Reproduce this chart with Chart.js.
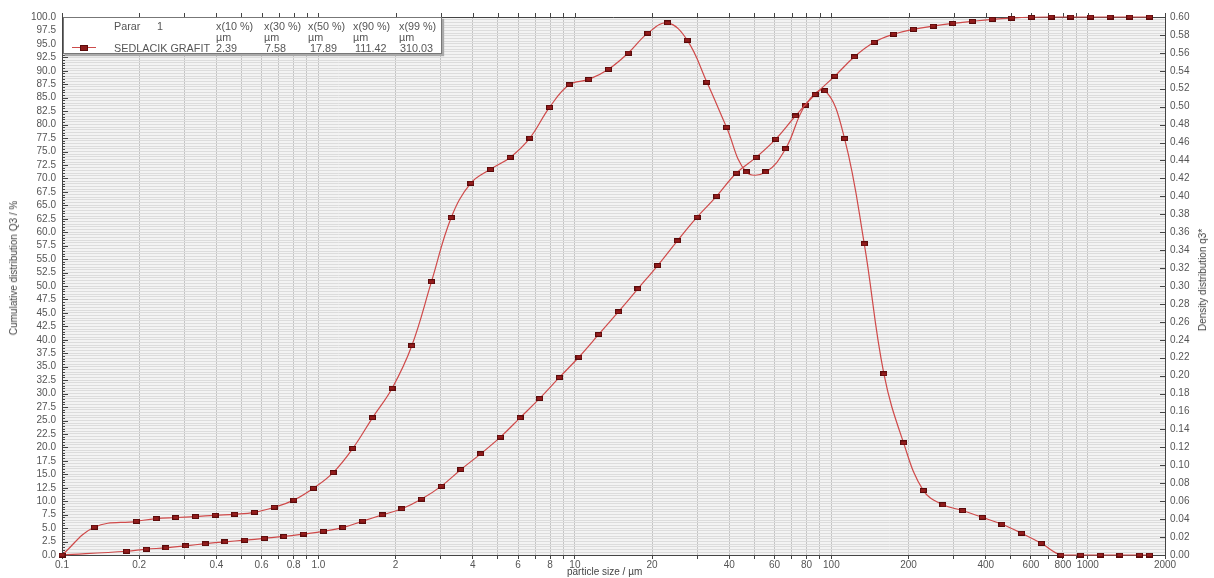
<!DOCTYPE html>
<html>
<head>
<meta charset="utf-8">
<script src="https://cdn.jsdelivr.net/npm/chart.js@4.4.0/dist/chart.umd.min.js"></script>
<style>
  html, body { margin: 0; padding: 0; background: #fff; }
  #quadro { position: relative; width: 1214px; height: 578px; overflow: hidden; }
  #grafico { position: absolute; left: 0; top: 0; }
  .titulo { position: absolute; font-family: "Liberation Sans Narrow", "Arial Narrow", "Liberation Sans", sans-serif; font-size: 10px; color: #444; white-space: nowrap; line-height: 12px; }
  .vertical { transform: translate(-50%, -50%) rotate(-90deg); }
  #legenda { position: absolute; left: 63px; top: 17px; width: 377px; height: 35px; background: #fff; border: 1px solid #777; box-shadow: 2px 2px 1px #aaa; }
  #legenda span { position: absolute; font-family: "Liberation Sans", Arial, sans-serif; font-size: 10.8px; color: #555; white-space: nowrap; line-height: 12px; }
  #legenda .linha { position: absolute; height: 1px; background: #cc4b4b; }
  #legenda .ponto { position: absolute; width: 6px; height: 4px; background: #8e1b1b; border: 1px solid #5a0b0b; }
</style>
</head>
<body>
<div id="quadro">
  <canvas id="grafico" width="1214" height="578"></canvas>
  <div class="titulo vertical" style="left:14px; top:268px;">Cumulative distribution Q3 / %</div>
  <div class="titulo vertical" style="left:1203px; top:280px;">Density distribution q3*</div>
  <div class="titulo" style="left:567px; top:566px;">particle size / µm</div>
  <div id="legenda">
    <span style="left:50px; top:2px;">Parar</span>
    <span style="left:93px; top:2px;">1</span>
    <span style="left:152px; top:2px;">x(10 %)</span>
    <span style="left:200px; top:2px;">x(30 %)</span>
    <span style="left:244px; top:2px;">x(50 %)</span>
    <span style="left:289px; top:2px;">x(90 %)</span>
    <span style="left:335px; top:2px;">x(99 %)</span>
    <span style="left:152px; top:13px;">µm</span>
    <span style="left:200px; top:13px;">µm</span>
    <span style="left:244px; top:13px;">µm</span>
    <span style="left:289px; top:13px;">µm</span>
    <span style="left:335px; top:13px;">µm</span>
    <div class="linha" style="left:8px; top:29px; width:24px;"></div>
    <div class="ponto" style="left:16px; top:27px;"></div>
    <span style="left:50px; top:24px;">SEDLACIK GRAFIT</span>
    <span style="left:152px; top:24px;">2.39</span>
    <span style="left:201px; top:24px;">7.58</span>
    <span style="left:246px; top:24px;">17.89</span>
    <span style="left:291px; top:24px;">111.42</span>
    <span style="left:336px; top:24px;">310.03</span>
  </div>
</div>
<script>
// tamanhos de particula (µm) - limites de classe para Q3
const tamanhosQ3 = [0.1, 0.1786, 0.2131, 0.2543, 0.3034, 0.3621, 0.4320, 0.5155, 0.6151, 0.7339,
  0.8757, 1.0445, 1.246, 1.487, 1.774, 2.117, 2.526, 3.014, 3.596, 4.291,
  5.120, 6.109, 7.289, 8.697, 10.37, 12.38, 14.77, 17.62, 21.02, 25.09,
  29.94, 35.72, 42.62, 50.85, 60.67, 72.39, 86.38, 103.1, 123.0, 146.7,
  175.1, 208.9, 249.2, 297.4, 354.8, 423.4, 505.1, 602.7, 719.2, 858.1,
  1024, 1221, 1457, 1739];
// distribuicao acumulada Q3 (%)
const valoresQ3 = [0, 0.7, 1.08, 1.33, 1.7, 2.1, 2.45, 2.75, 3.1, 3.45,
  3.9, 4.4, 5.1, 6.3, 7.45, 8.6, 10.4, 12.8, 15.9, 18.8,
  21.9, 25.5, 29.1, 33.0, 36.8, 41.0, 45.2, 49.5, 53.8, 58.4,
  62.8, 66.7, 71.0, 73.9, 77.3, 81.6, 85.6, 89.0, 92.6, 95.3,
  96.8, 97.7, 98.3, 98.8, 99.2, 99.55, 99.8, 99.95, 100, 100,
  100, 100, 100, 100];

// tamanhos medios de classe para a densidade q3*
const tamanhosDens = [0.1, 0.1337, 0.1951, 0.2328, 0.2778, 0.3314, 0.3955, 0.4719, 0.5630, 0.6718,
  0.8015, 0.9562, 1.141, 1.361, 1.624, 1.938, 2.312, 2.759, 3.292, 3.928,
  4.687, 5.592, 6.672, 7.961, 9.499, 11.33, 13.52, 16.13, 19.25, 22.97,
  27.41, 32.70, 39.02, 46.56, 55.55, 66.29, 79.09, 94.36, 112.6, 134.4,
  160.3, 191.3, 228.2, 272.3, 324.9, 387.7, 462.6, 551.9, 658.5, 785.7,
  937.4, 1118, 1334, 1592, 1739];
// densidade q3*
const valoresDens = [0, 0.031, 0.0376, 0.0406, 0.0418, 0.0429, 0.0443, 0.0454, 0.0476, 0.0532,
  0.0612, 0.0744, 0.0918, 0.1188, 0.153, 0.186, 0.2334, 0.3048, 0.3762, 0.4146,
  0.4302, 0.4434, 0.465, 0.4992, 0.5244, 0.5304, 0.5418, 0.5598, 0.582, 0.5934,
  0.5742, 0.5274, 0.477, 0.4272, 0.4272, 0.453, 0.5016, 0.5178, 0.4644, 0.347,
  0.202, 0.125, 0.072, 0.056, 0.0496, 0.042, 0.0343, 0.0243, 0.013, 0,
  0, 0, 0, 0, 0];

// eixo x: linhas de grade e rotulos
const gradeX = [0.1, 0.2, 0.3, 0.4, 0.5, 0.6, 0.7, 0.8, 0.9,
  1, 2, 3, 4, 5, 6, 7, 8, 9,
  10, 20, 30, 40, 50, 60, 70, 80, 90,
  100, 200, 300, 400, 500, 600, 700, 800, 900,
  1000, 2000];
const valoresRotuloX = [0.1, 0.2, 0.4, 0.6, 0.8, 1, 2, 4, 6, 8, 10, 20, 40, 60, 80, 100, 200, 400, 600, 800, 1000, 2000];
const rotulosX = ["0.1", "0.2", "0.4", "0.6", "0.8", "1.0", "2", "4", "6", "8", "10", "20", "40", "60", "80", "100", "200", "400", "600", "800", "1000", "2000"];

const corLinha = "#cf4a4a";
const fonteEixo = { family: "'Liberation Sans Narrow', 'Arial Narrow', 'Liberation Sans', sans-serif", size: 10 };

// marcador quadrado vermelho escuro
function marcador() {
  const c = document.createElement("canvas");
  c.width = 7; c.height = 5;
  const g = c.getContext("2d");
  g.fillStyle = "#5a0b0b"; g.fillRect(0, 0, 7, 5);
  g.fillStyle = "#931c1c"; g.fillRect(1, 1, 5, 3);
  return c;
}

// fundo do grafico, moldura superior e tracinhos dos eixos
const decoracao = {
  id: "decoracao",
  beforeDraw(chart) {
    const { ctx, chartArea: a } = chart;
    ctx.save();
    ctx.fillStyle = "#f3f3f3";
    ctx.fillRect(a.left, a.top, a.right - a.left, a.bottom - a.top);
    ctx.restore();
  },
  beforeDatasetsDraw(chart) {
    const { ctx, chartArea: a, scales } = chart;
    ctx.save();
    ctx.strokeStyle = "#444";
    ctx.lineWidth = 1;
    ctx.beginPath();
    ctx.moveTo(a.left, a.top + 0.5);
    ctx.lineTo(a.right, a.top + 0.5);
    gradeX.forEach(v => {
      const px = Math.round(scales.x.getPixelForValue(v)) + 0.5;
      ctx.moveTo(px, a.top);
      ctx.lineTo(px, a.top - 4);
    });
    scales.y1.ticks.forEach(t => {
      const py = Math.round(scales.y1.getPixelForValue(t.value)) + 0.5;
      ctx.moveTo(a.right, py);
      ctx.lineTo(a.right - 5, py);
    });
    scales.y.ticks.forEach(t => {
      const py = Math.round(scales.y.getPixelForValue(t.value)) + 0.5;
      const tam = Math.abs(t.value % 2.5) < 1e-6 ? 6 : 3;
      ctx.moveTo(a.left, py);
      ctx.lineTo(a.left + tam, py);
    });
    ctx.stroke();
    ctx.restore();
  }
};

const ctx = document.getElementById("grafico").getContext("2d");
const ponto = marcador();

new Chart(ctx, {
  type: "line",
  data: {
    datasets: [
      {
        label: "SEDLACIK GRAFIT Q3",
        data: tamanhosQ3.map((x, i) => ({ x, y: valoresQ3[i] })),
        yAxisID: "y",
        borderColor: corLinha,
        borderWidth: 1.2,
        tension: 0.4,
        pointStyle: ponto,
        pointRadius: 4,
        clip: false
      },
      {
        label: "SEDLACIK GRAFIT q3*",
        data: tamanhosDens.map((x, i) => ({ x, y: valoresDens[i] })),
        yAxisID: "y1",
        borderColor: corLinha,
        borderWidth: 1.2,
        tension: 0.4,
        pointStyle: ponto,
        pointRadius: 4,
        clip: false
      }
    ]
  },
  options: {
    responsive: false,
    animation: false,
    layout: { padding: { top: 17, left: 0, right: 0, bottom: 0 } },
    plugins: { legend: { display: false }, tooltip: { enabled: false } },
    scales: {
      x: {
        type: "logarithmic",
        position: "bottom",
        min: 0.1,
        max: 2000,
        afterBuildTicks: s => { s.ticks = gradeX.map(v => ({ value: v })); },
        afterFit: s => { s.height = 23; },
        grid: { color: "#c4c4c4", tickColor: "#444", tickLength: 4 },
        border: { color: "#444" },
        ticks: {
          autoSkip: false,
          maxRotation: 0,
          padding: 0,
          color: "#555",
          font: fonteEixo,
          callback: v => {
            const i = valoresRotuloX.indexOf(v);
            return i >= 0 ? rotulosX[i] : "";
          }
        }
      },
      y: {
        position: "left",
        min: 0,
        max: 100,
        afterFit: s => { s.width = 62; },
        grid: { color: "#dcdcdc", drawTicks: false },
        border: { color: "#444" },
        ticks: {
          stepSize: 0.5,
          autoSkip: false,
          padding: 6,
          color: "#555",
          font: fonteEixo,
          callback: v => (Math.abs(v % 2.5) < 1e-6 ? v.toFixed(1) : "")
        }
      },
      y1: {
        position: "right",
        min: 0,
        max: 0.6,
        afterFit: s => { s.width = 49; },
        grid: { drawOnChartArea: false, drawTicks: false },
        border: { color: "#444" },
        ticks: {
          stepSize: 0.02,
          autoSkip: false,
          padding: 5,
          color: "#555",
          font: fonteEixo,
          callback: v => v.toFixed(2)
        }
      }
    }
  },
  plugins: [decoracao]
});
</script>
</body>
</html>
